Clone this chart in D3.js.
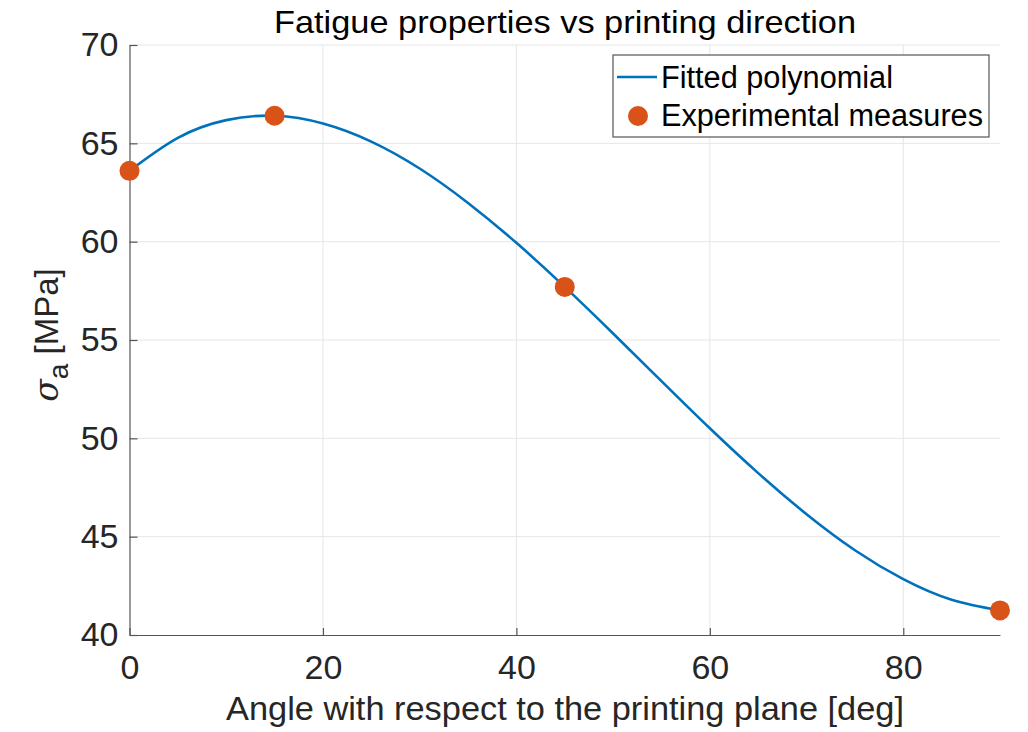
<!DOCTYPE html>
<html>
<head>
<meta charset="utf-8">
<script src="https://cdn.jsdelivr.net/npm/d3@7/dist/d3.min.js"></script>
<style>
  body { margin: 0; background: #fff; }
  text { font-family: "Liberation Sans", Arial, Helvetica, sans-serif; fill: #262626; }
</style>
</head>
<body>
<div id="chart"></div>
<script>
width = 1028
height = 732

margin = {top: 45, right: 28, bottom: 97, left: 129.5}

// measured points
const measAngle = [0, 15, 45, 90]
const measStress = [63.6, 66.4, 57.7, 41.25]

// fitted curve, every 5 deg
const fitAngle = [0, 5, 10, 15, 20, 25, 30, 35, 40, 45, 50, 55, 60, 65, 70, 75, 80, 85, 90]
const fitStress = [63.6, 65.28, 66.18, 66.4, 66.01, 65.09, 63.72, 61.97, 59.94, 57.7, 55.33, 52.91, 50.51, 48.23, 46.14, 44.31, 42.84, 41.79, 41.25]

const xTicks = [0, 20, 40, 60, 80]
const yTicks = [40, 45, 50, 55, 60, 65, 70]

const blue = "#0072BD"
const orange = "#D95319"

const svg = d3.select("#chart")
  .append("svg")
    .attr("width", width)
    .attr("height", height)

const x = d3.scaleLinear().domain([0, 90]).range([margin.left, width - margin.right])
const y = d3.scaleLinear().domain([40, 70]).range([height - margin.bottom, margin.top])

// grid
svg.append("g").selectAll("line")
  .data(xTicks.filter(d => d > 0))
  .join("line")
    .attr("x1", d => x(d)).attr("x2", d => x(d))
    .attr("y1", y(40)).attr("y2", y(70))
    .attr("stroke", "#e6e6e6")
svg.append("g").selectAll("line")
  .data(yTicks.filter(d => d > 40))
  .join("line")
    .attr("x1", x(0)).attr("x2", x(90))
    .attr("y1", d => y(d)).attr("y2", d => y(d))
    .attr("stroke", "#e6e6e6")

// axes, ticks point inward like matlab
const xAxis = svg.append("g")
  .attr("transform", `translate(0,${y(40)})`)
  .call(d3.axisBottom(x).tickValues(xTicks).tickSizeInner(-7).tickSizeOuter(0).tickPadding(20))
const yAxis = svg.append("g")
  .attr("transform", `translate(${x(0)},0)`)
  .call(d3.axisLeft(y).tickValues(yTicks).tickSizeInner(-8).tickSizeOuter(0).tickPadding(11))

for (const ax of [xAxis, yAxis]) {
  ax.select(".domain").attr("stroke", "#555").attr("stroke-width", 1.2)
  ax.selectAll(".tick line").attr("stroke", "#555").attr("stroke-width", 1.2)
  ax.selectAll(".tick text").attr("font-size", 34).attr("fill", "#262626")
    .style("font-family", "'Liberation Sans', Arial, sans-serif")
}

// fitted polynomial
const line = d3.line()
  .x((d, i) => x(fitAngle[i]))
  .y(d => y(d))
  .curve(d3.curveNatural)

svg.append("path")
  .datum(fitStress)
  .attr("d", line)
  .attr("fill", "none")
  .attr("stroke", blue)
  .attr("stroke-width", 2.6)

// experimental measures
svg.append("g").selectAll("circle")
  .data(measStress)
  .join("circle")
    .attr("cx", (d, i) => x(measAngle[i]))
    .attr("cy", d => y(d))
    .attr("r", 10)
    .attr("fill", orange)

// title
svg.append("text")
  .attr("x", 565).attr("y", 33)
  .attr("text-anchor", "middle")
  .attr("font-size", 32)
  .attr("textLength", 582)
  .attr("lengthAdjust", "spacingAndGlyphs")
  .style("fill", "#000")
  .text("Fatigue properties vs printing direction")

// x label
svg.append("text")
  .attr("x", 565).attr("y", 720)
  .attr("text-anchor", "middle")
  .attr("font-size", 34)
  .attr("textLength", 678)
  .attr("lengthAdjust", "spacingAndGlyphs")
  .text("Angle with respect to the printing plane [deg]")

// y label: sigma_a [MPa]
const ylab = svg.append("text")
  .attr("transform", "translate(58,335) rotate(-90)")
  .attr("text-anchor", "middle")
  .attr("font-size", 33)
ylab.append("tspan").attr("font-style", "italic").style("font-family", "'DejaVu Serif', serif").text("σ")
ylab.append("tspan").attr("dy", 10).attr("font-size", 28).text("a")
ylab.append("tspan").attr("dy", -10).text(" [MPa]")

// legend
const legend = svg.append("g")
legend.append("rect")
  .attr("x", 613).attr("y", 55)
  .attr("width", 376).attr("height", 82)
  .attr("fill", "#fff")
  .attr("stroke", "#555")
  .attr("stroke-width", 1.2)
legend.append("line")
  .attr("x1", 617).attr("x2", 657)
  .attr("y1", 77).attr("y2", 77)
  .attr("stroke", blue).attr("stroke-width", 2.6)
legend.append("circle")
  .attr("cx", 638).attr("cy", 116).attr("r", 10)
  .attr("fill", orange)
legend.append("text")
  .attr("x", 661).attr("y", 88)
  .attr("font-size", 31)
  .attr("textLength", 232)
  .attr("lengthAdjust", "spacingAndGlyphs")
  .style("fill", "#000")
  .text("Fitted polynomial")
legend.append("text")
  .attr("x", 661).attr("y", 126)
  .attr("font-size", 31)
  .attr("textLength", 322)
  .attr("lengthAdjust", "spacingAndGlyphs")
  .style("fill", "#000")
  .text("Experimental measures")
</script>
</body>
</html>
